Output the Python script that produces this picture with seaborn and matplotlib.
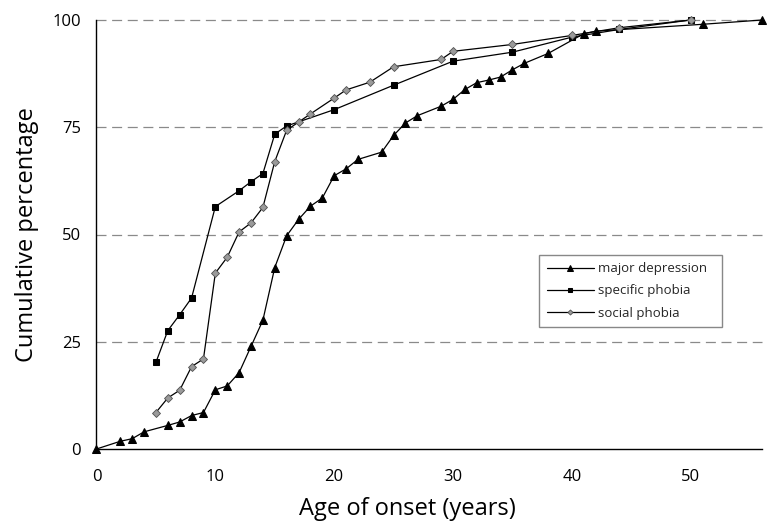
import matplotlib
matplotlib.use('Agg')
import matplotlib.pyplot as plt
import seaborn as sns
import pandas as pd

# ---- data ----
md_age = [0, 2, 3, 4, 6, 7, 8, 9, 10, 11, 12, 13, 14, 15, 16, 17, 18, 19, 20, 21, 22,
          24, 25, 26, 27, 29, 30, 31, 32, 33, 34, 35, 36, 38, 41, 42, 51, 56]
md_pct = [0, 1.8, 2.4, 4.0, 5.5, 6.3, 7.8, 8.5, 13.8, 14.7, 17.8, 23.9, 30.0, 42.3, 49.7,
          53.5, 56.6, 58.5, 63.7, 65.3, 67.5, 69.2, 73.1, 76.0, 77.7, 79.9, 81.5, 83.8,
          85.4, 86.0, 86.7, 88.4, 89.9, 92.2, 96.8, 97.4, 99.0, 100]

sp_age = [5, 6, 7, 8, 10, 12, 13, 14, 15, 16, 20, 25, 30, 35, 40, 44, 50]
sp_pct = [20.2, 27.6, 31.3, 35.2, 56.5, 60.2, 62.3, 64.2, 73.4, 75.3, 79.1, 84.8, 90.4,
          92.5, 96.0, 97.8, 100]

so_age = [5, 6, 7, 8, 9, 10, 11, 12, 13, 14, 15, 16, 17, 18, 20, 21, 23, 25, 29, 30,
          35, 40, 44, 50]
so_pct = [8.5, 11.9, 13.7, 19.2, 21.0, 41.0, 44.7, 50.6, 52.7, 56.3, 67.0, 74.3, 76.2,
          78.1, 81.8, 83.7, 85.5, 89.1, 90.8, 92.7, 94.3, 96.4, 98.2, 100]

labels = ['major depression', 'specific phobia', 'social phobia']
y_ticks = [0, 25, 50, 75, 100]
x_major = [0, 10, 20, 30, 40, 50]
x_minor = [5, 15, 25, 35, 45, 55]

sns.set_style('white')
plt.rcParams['font.family'] = ['Open Sans', 'DejaVu Sans']

W, H = 770, 521
fig = plt.figure(figsize=(W / 100, H / 100), dpi=100)
x0, x1, yb, yt = 96.5, 762, 449, 20
ax = fig.add_axes([x0 / W, 1 - yb / H, (x1 - x0) / W, (yb - yt) / H])

for gy in y_ticks[1:]:
    ax.axhline(gy, color='#8a8a8a', lw=0.9, ls=(0, (8, 4.5)), zorder=0, clip_on=False)

sns.lineplot(x=md_age, y=md_pct, ax=ax, color='black', lw=0.9, marker='^',
             markersize=6, markerfacecolor='black', markeredgecolor='black',
             label=labels[0], clip_on=False, zorder=3)
sns.lineplot(x=sp_age, y=sp_pct, ax=ax, color='black', lw=0.9, marker='s',
             markersize=5, markerfacecolor='black', markeredgecolor='black',
             label=labels[1], clip_on=False, zorder=3)
sns.lineplot(x=so_age, y=so_pct, ax=ax, color='black', lw=0.9, marker='D',
             markersize=4, markerfacecolor='#9a9a9a', markeredgecolor='#505050',
             markeredgewidth=0.6, label=labels[2], clip_on=False, zorder=4)

ax.set_xlim(0, 56)
ax.set_ylim(0, 100)
ax.set_xticks(x_major)
ax.set_xticks(x_minor, minor=True)
ax.set_yticks(y_ticks)
ax.tick_params(axis='both', which='both', direction='inout', length=9.5, width=0.9,
               color='black', labelsize=12, labelcolor='black')
ax.tick_params(axis='x', which='both', pad=9.7)
ax.tick_params(axis='y', pad=6.3)

for s in ['top', 'right']:
    ax.spines[s].set_visible(False)
for s in ['left', 'bottom']:
    ax.spines[s].set_color('black')
    ax.spines[s].set_linewidth(1.0)

ax.set_xlabel('Age of onset (years)', fontsize=17, color='black')
ax.set_ylabel('Cumulative percentage', fontsize=17, color='black')
ax.xaxis.set_label_coords(0.467, -0.111)
ax.yaxis.set_label_coords(-0.087, 0.5)

leg = ax.legend(loc='upper left', bbox_to_anchor=(0.6654, 0.2844, 0.2745, 0.1678),
                mode='expand', borderaxespad=0,
                frameon=True, fancybox=False, edgecolor='#888888', framealpha=1,
                fontsize=9.5, handlelength=3.6, handletextpad=0.3, borderpad=0.55,
                labelspacing=0.7, markerscale=0.65)
leg.get_frame().set_linewidth(1.0)

fig.savefig('out.png', dpi=100)
